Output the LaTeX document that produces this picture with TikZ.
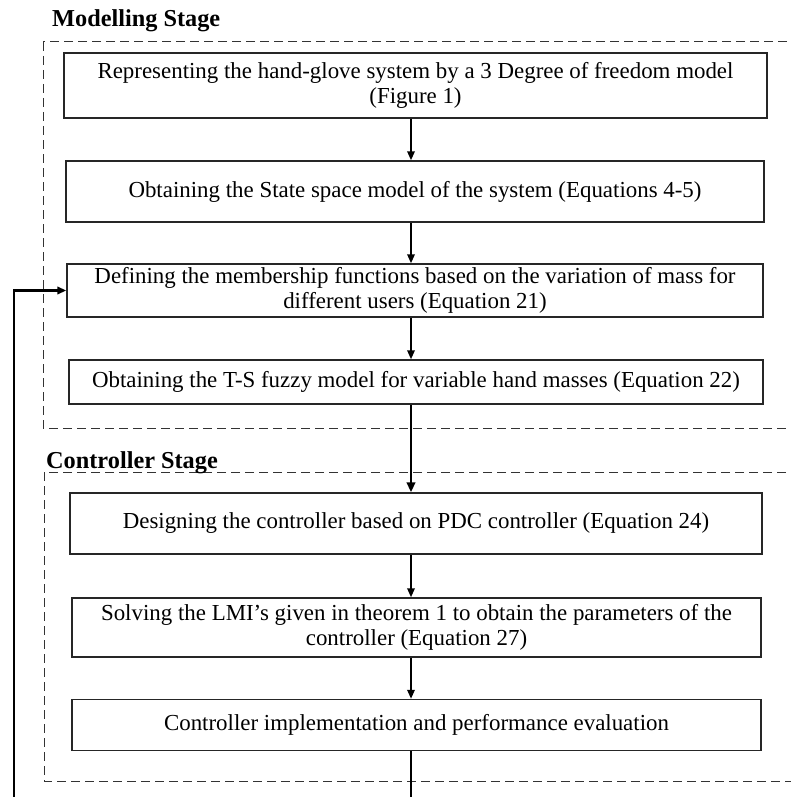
\documentclass[tikz,border=0pt]{standalone}
\usepackage{fontspec}
\setmainfont{Liberation Serif}
\usetikzlibrary{arrows.meta}
\tikzset{
  box/.style={draw=black!85, line width=1.5pt, inner sep=0pt, align=center,
              font=\fontsize{22.9}{25.5}\selectfont},
  stage/.style={draw=black!80, line width=1pt, dash pattern=on 9pt off 5pt},
  title/.style={anchor=base west, inner sep=0pt, font=\bfseries\fontsize{24.3}{28}\selectfont},
  arr/.style={line width=1.8pt, -{Triangle[length=9pt,width=7.5pt]}},
  thickarr/.style={line width=2.8pt, -{Triangle[length=10pt,width=8.5pt]}},
  fb/.style={line width=2.2pt, -{Triangle[length=9pt,width=7.5pt]}}
}
\begin{document}
\begin{tikzpicture}[x=1pt,y=-1pt]
\useasboundingbox (0,0) rectangle (791,797);
\clip (0,0) rectangle (791,797);
% stage frames
\draw[stage] (43,42) rectangle (820,428);
\draw[stage] (44,472) rectangle (820,781);
\node[title] (t1) at (52,27) {Modelling Stage};
\node[title] (t2) at (46,468) {Controller Stage};
% boxes
\node[box, minimum width=703pt, minimum height=65pt] (b1) at (415.5,85.5)
  {Representing the hand-glove system by a 3 Degree of freedom model\\(Figure 1)};
\node[box, minimum width=698pt, minimum height=61pt] (b2) at (415,191.5)
  {Obtaining the State space model of the system (Equations 4-5)};
\node[box, minimum width=696pt, minimum height=53pt] (b3) at (415,290.5)
  {Defining the membership functions based on the variation of mass for\\different users (Equation 21)};
\node[box, minimum width=694pt, minimum height=44pt] (b4) at (416,382)
  {Obtaining the T-S fuzzy model for variable hand masses (Equation 22)};
\node[box, minimum width=692pt, minimum height=61pt] (b5) at (416,523.5)
  {Designing the controller based on PDC controller (Equation 24)};
\node[box, minimum width=689pt, minimum height=59pt] (b6) at (416.5,627.5)
  {Solving the LMI's given in theorem 1 to obtain the parameters of the\\controller (Equation 27)};
\node[box, minimum width=689pt, minimum height=51pt] (b7) at (416.5,725)
  {Controller implementation and performance evaluation};
% arrows
\coordinate (ax) at (411,0);
\coordinate (fx) at (14,0);
\coordinate (bot) at (0,810);
\draw[arr] (b1.south -| ax) -- (b2.north -| ax);
\draw[arr] (b2.south -| ax) -- (b3.north -| ax);
\draw[arr] (b3.south -| ax) -- (b4.north -| ax);
\draw[thickarr] (b4.south -| ax) -- (b5.north -| ax);
\draw[arr] (b5.south -| ax) -- (b6.north -| ax);
\draw[arr] (b6.south -| ax) -- (b7.north -| ax);
\draw[fb] (b7.south -| ax) -- (bot -| ax) -- (bot -| fx) -- (b3.west -| fx) -- (b3.west);
\end{tikzpicture}
\end{document}
